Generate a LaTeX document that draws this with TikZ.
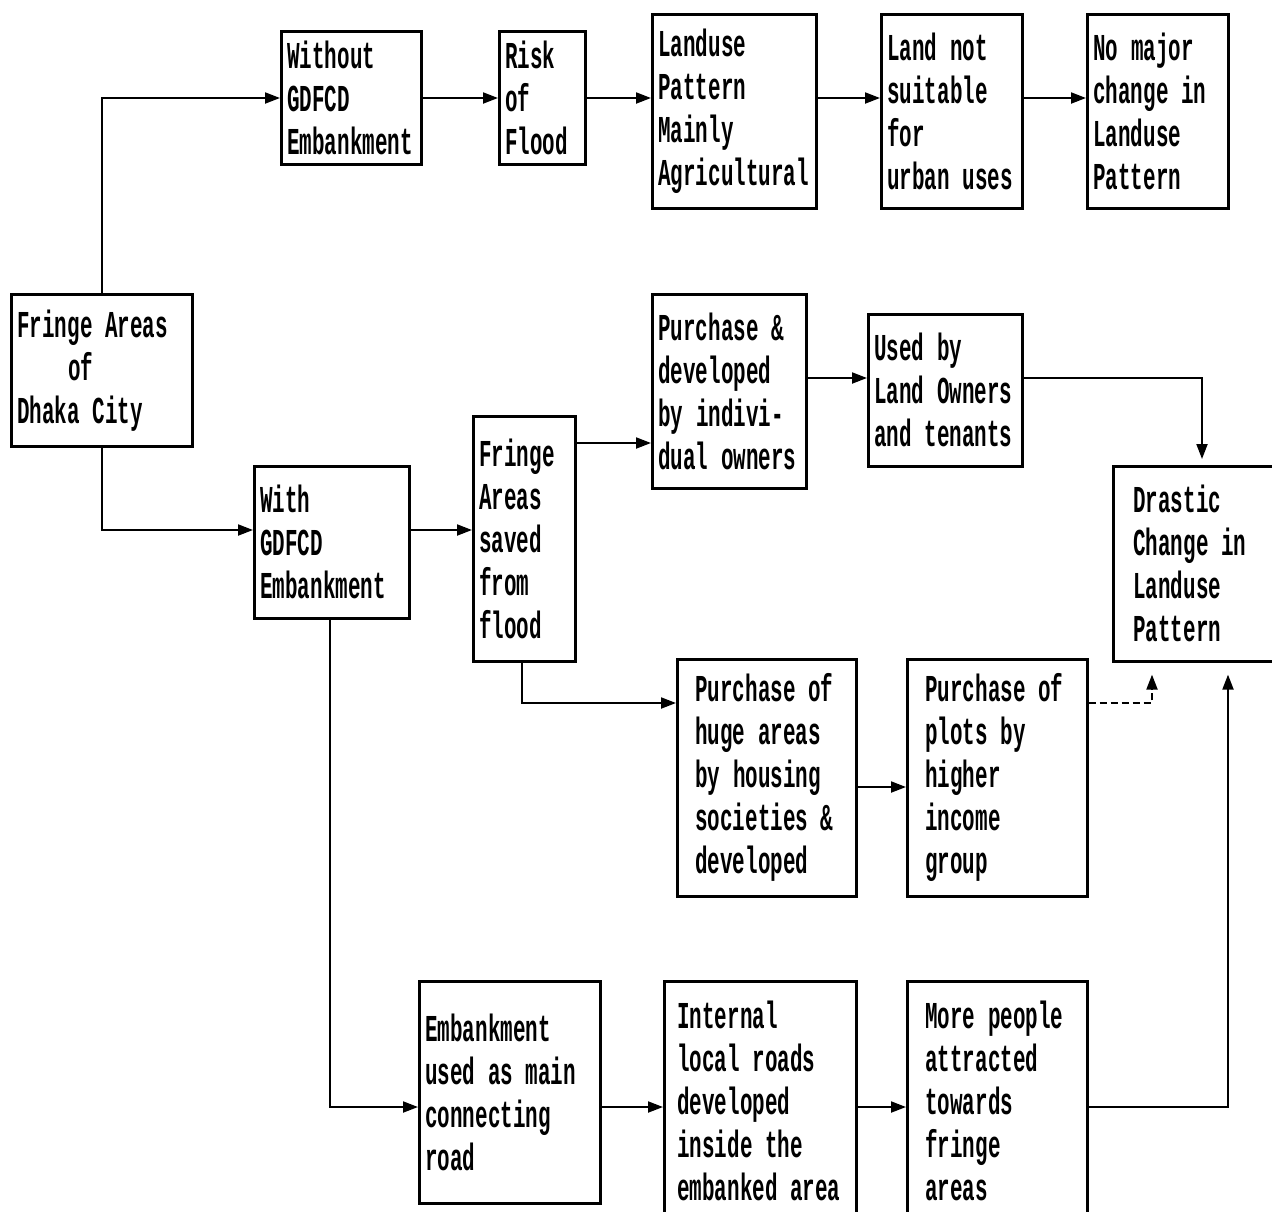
\documentclass[tikz,border=0pt]{standalone}
\usepackage{fontspec}
\newfontfamily\boxfont[FakeStretch=0.55]{Liberation Mono}
\usetikzlibrary{arrows.meta}
\begin{document}
\begin{tikzpicture}[x=1pt,y=-1pt,
  box/.style={draw, line width=2.6pt, anchor=north west, align=left,
    inner xsep=6pt, inner ysep=0pt,
    font=\boxfont\bfseries\fontsize{38}{43}\selectfont},
  conn/.style={line width=2pt, -{Triangle[length=15pt,width=11pt]}},
  dconn/.style={conn, dash pattern=on 7pt off 4pt},
]
\useasboundingbox[fill=white] (0,0) rectangle (1272,1211);

\node[box, minimum width=181pt, minimum height=152pt, text width=169pt] (fringe) at (10,293) {Fringe Areas\\\hspace*{51pt}of\\Dhaka City};
\node[box, minimum width=140pt, minimum height=133pt, text width=128pt] (without) at (280,30) {Without\\GDFCD\\Embankment};
\node[box, minimum width=86pt, minimum height=133pt, text width=74pt] (risk) at (498,30) {Risk\\of\\Flood};
\node[box, minimum width=164pt, minimum height=194pt, text width=152pt] (landuse) at (651,13) {Landuse\\Pattern\\Mainly\\Agricultural};
\node[box, minimum width=141pt, minimum height=194pt, text width=129pt] (notsuit) at (880,13) {Land not\\suitable\\for\\urban uses};
\node[box, minimum width=141pt, minimum height=194pt, text width=129pt] (nomajor) at (1086,13) {No major\\change in\\Landuse\\Pattern};
\node[box, minimum width=155pt, minimum height=152pt, text width=143pt] (with) at (253,465) {With\\GDFCD\\Embankment};
\node[box, minimum width=102pt, minimum height=245pt, text width=90pt] (saved) at (472,415) {Fringe\\Areas\\saved\\from\\flood};
\node[box, minimum width=154pt, minimum height=194pt, text width=142pt] (purch) at (651,293) {Purchase \&\\developed\\by indivi-\\dual owners};
\node[box, minimum width=154pt, minimum height=152pt, text width=142pt] (used) at (867,313) {Used by\\Land Owners\\and tenants};
\node[box, minimum width=165pt, minimum height=195pt, inner xsep=20pt, text width=125pt] (drastic) at (1112,465) {Drastic\\Change in\\Landuse\\Pattern};
\node[box, minimum width=179pt, minimum height=237pt, inner xsep=18pt, text width=143pt] (huge) at (676,658) {Purchase~of\\huge~areas\\by~housing\\societies~\&\\developed};
\node[box, minimum width=180pt, minimum height=237pt, inner xsep=18pt, text width=144pt] (plots) at (906,658) {Purchase~of\\plots by\\higher\\income\\group};
\node[box, minimum width=181pt, minimum height=222pt, text width=169pt] (embank) at (418,980) {Embankment\\used as main\\connecting\\road};
\node[box, minimum width=192pt, minimum height=240pt, inner xsep=13pt, text width=166pt] (internal) at (663,980) {Internal\\local~roads\\developed\\inside~the\\embanked~area};
\node[box, minimum width=180pt, minimum height=240pt, inner xsep=18pt, text width=144pt] (more) at (906,980) {More~people\\attracted\\towards\\fringe\\areas};

\coordinate (r1) at (0,98);
\coordinate (r2) at (0,530);
\coordinate (r3) at (0,443);
\coordinate (r4) at (0,378);
\coordinate (r5) at (0,703);
\coordinate (r6) at (0,787);
\coordinate (r7) at (0,1107);
\coordinate (c1) at (1202,0);
\coordinate (c2) at (1152,0);
\coordinate (c3) at (1228,0);

\draw[conn] (fringe.north) -- (fringe.north |- r1) -- (without.west |- r1);
\draw[conn] (fringe.south) -- (fringe.south |- r2) -- (with.west |- r2);
\draw[conn] (without.east |- r1) -- (risk.west |- r1);
\draw[conn] (risk.east |- r1) -- (landuse.west |- r1);
\draw[conn] (landuse.east |- r1) -- (notsuit.west |- r1);
\draw[conn] (notsuit.east |- r1) -- (nomajor.west |- r1);
\draw[conn] (with.east |- r2) -- (saved.west |- r2);
\draw[conn] (saved.east |- r3) -- (purch.west |- r3);
\draw[conn] (purch.east |- r4) -- (used.west |- r4);
\draw[conn, shorten >=6pt] (used.east |- r4) -- (c1 |- r4) -- (c1 |- drastic.north);
\draw[conn] (saved.south -| 522,0) -- (522,703) -- (huge.west |- r5);
\draw[conn] (huge.east |- r6) -- (plots.west |- r6);
\draw[dconn, shorten >=12pt] (plots.east |- r5) -- (c2 |- r5) -- (c2 |- drastic.south);
\draw[conn, shorten >=12pt] (more.east |- r7) -- (c3 |- r7) -- (c3 |- drastic.south);
\draw[conn] (with.south -| 330,0) -- (330,1107) -- (embank.west |- r7);
\draw[conn] (embank.east |- r7) -- (internal.west |- r7);
\draw[conn] (internal.east |- r7) -- (more.west |- r7);
\end{tikzpicture}
\end{document}
